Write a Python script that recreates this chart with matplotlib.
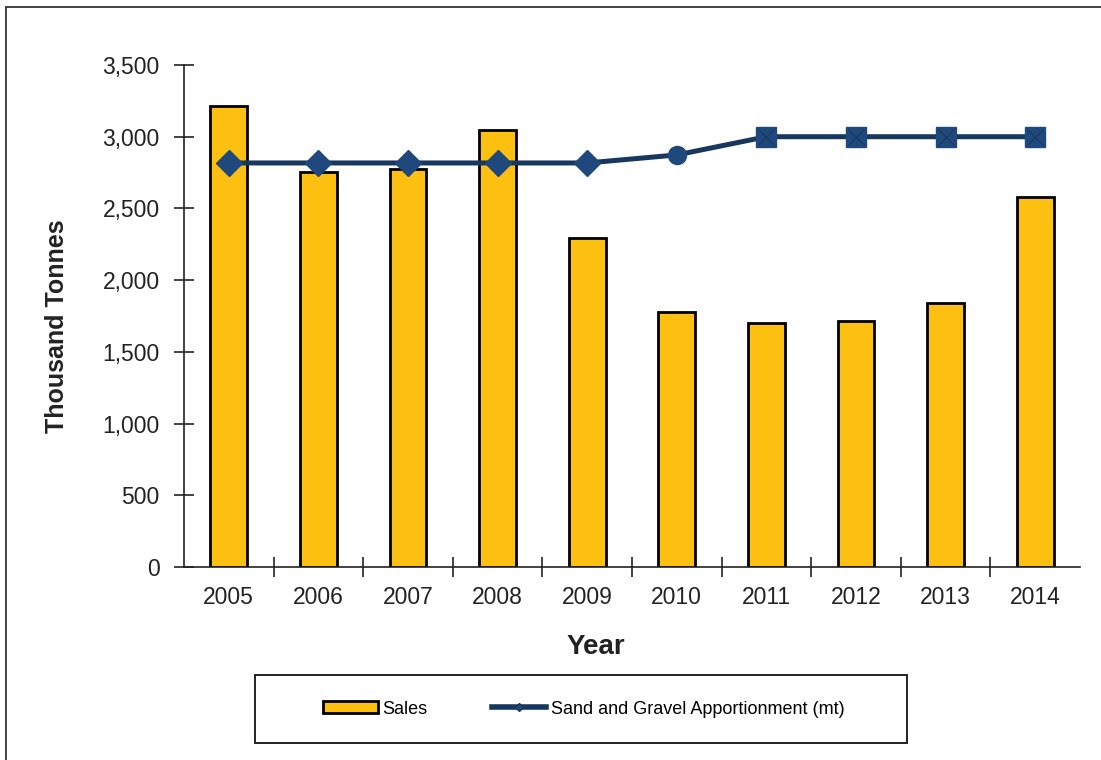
import matplotlib

matplotlib.use("Agg")
import matplotlib.pyplot as plt
from matplotlib.lines import Line2D
from matplotlib.patches import Patch, Rectangle
from matplotlib.ticker import FuncFormatter, FixedLocator

plt.rcParams["font.family"] = ["Liberation Sans", "DejaVu Sans"]

years = ["2005", "2006", "2007", "2008", "2009", "2010", "2011", "2012", "2013", "2014"]
sales = [3215, 2755, 2775, 3045, 2295, 1780, 1700, 1715, 1840, 2580]
apportionment = [2817, 2817, 2817, 2817, 2817, 2873, 3000, 3000, 3000, 3000]
marker_kind = ["D", "D", "D", "D", "D", "o", "s", "s", "s", "s"]

BAR_COLOR = "#FDC010"
LINE_COLOR = "#17375E"
MARKER_COLOR = "#1F497D"
INK = "#222222"

W, H = 1101, 760
fig = plt.figure(figsize=(W / 100, H / 100), dpi=100)
# only the left/top edges of the outer frame show in the source
fig.patches.append(Rectangle((6 / W, -0.1), 1.2, (H - 7) / H + 0.1,
                             transform=fig.transFigure, fill=False,
                             edgecolor=INK, linewidth=1.2))

ax = fig.add_axes([184 / W, 1 - 567 / H, (1080 - 184) / W, (567 - 65) / H])
x = list(range(len(years)))

ax.bar(x, sales, width=0.41, color=BAR_COLOR, edgecolor="black", linewidth=2.0, zorder=2)
ax.plot(x, apportionment, color=LINE_COLOR, linewidth=3.6, zorder=3)
for xi, yi, mk in zip(x, apportionment, marker_kind):
    size = {"D": 13, "o": 13, "s": 14}[mk]
    ax.plot(xi, yi, marker=mk, markersize=size, color=MARKER_COLOR,
            markeredgecolor=MARKER_COLOR, zorder=4)
    if mk == "s":
        ax.plot(xi, yi, marker="x", markersize=12, color=LINE_COLOR,
                markeredgewidth=0.8, zorder=5)

ax.set_xlim(-0.5, len(years) - 0.5)
ax.set_ylim(0, 3500)
ax.set_yticks(range(0, 3501, 500))
ax.yaxis.set_major_formatter(FuncFormatter(lambda v, p: f"{int(v):,}"))

ax.set_xticks(x)
ax.set_xticklabels(years)
ax.xaxis.set_minor_locator(FixedLocator([i + 0.5 for i in x[:-1]]))
ax.tick_params(axis="x", which="major", length=0, pad=14, labelsize=16.5, colors=INK)
ax.tick_params(axis="x", which="minor", direction="inout", length=15, width=1.2, color=INK)
ax.tick_params(axis="y", direction="inout", length=15, width=1.2, pad=10,
               labelsize=16.5, colors=INK)

for side in ("top", "right"):
    ax.spines[side].set_visible(False)
for side in ("left", "bottom"):
    ax.spines[side].set_linewidth(1.2)
    ax.spines[side].set_color(INK)

fig.text(57 / W, 1 - 326 / H, "Thousand Tonnes", rotation=90, ha="center", va="center",
         fontsize=18, fontweight="bold", color=INK)
fig.text(596 / W, 1 - 647 / H, "Year", ha="center", va="center",
         fontsize=20, fontweight="bold", color=INK)

# legend box drawn separately so the padding can differ left/right vs top/bottom
fig.patches.append(Rectangle((255 / W, 1 - 743 / H), (907 - 255) / W, (743 - 675) / H,
                             transform=fig.transFigure, fill=False,
                             edgecolor=INK, linewidth=1.4))
handles = [Patch(facecolor=BAR_COLOR, edgecolor="black", linewidth=2),
           Line2D([0], [0], color=LINE_COLOR, linewidth=4, marker="D",
                  markersize=4, markerfacecolor=MARKER_COLOR)]
fig.legend(handles, ["Sales", "Sand and Gravel Apportionment (mt)"],
           loc="center", bbox_to_anchor=(584 / W, 1 - 709 / H),
           ncol=2, fontsize=13, frameon=False,
           handlelength=3.0, handleheight=0.6,
           columnspacing=3.6, borderpad=0, handletextpad=0.25)

fig.savefig("out.png", dpi=100)
